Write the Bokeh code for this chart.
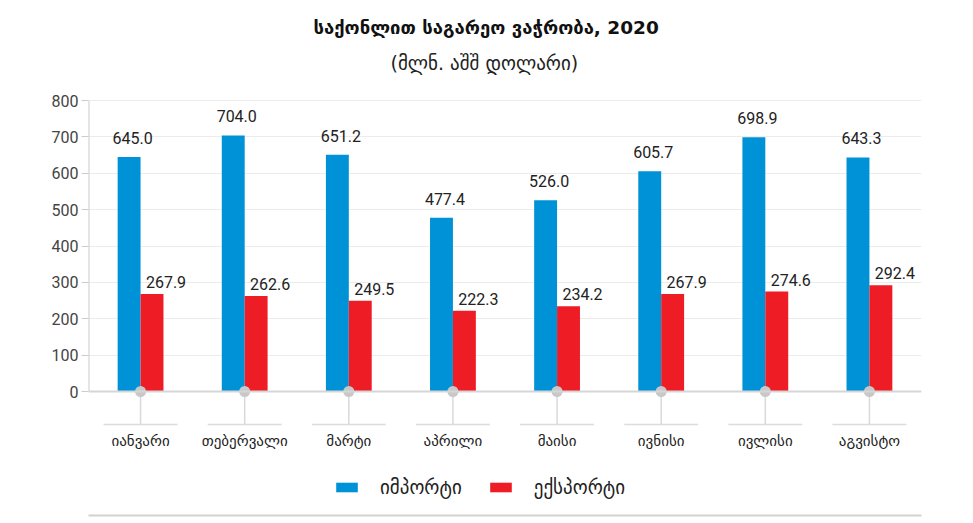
from bokeh.plotting import figure
from bokeh.models import (ColumnDataSource, FactorRange, Range1d, FixedTicker, Title,
                          Legend, LegendItem, Span, BoxAnnotation)
from bokeh.transform import dodge
from bokeh.core.properties import value
from bokeh.embed import file_html
from bokeh.resources import INLINE

# ---- data ----
months = ["იანვარი", "თებერვალი", "მარტი", "აპრილი", "მაისი", "ივნისი", "ივლისი", "აგვისტო"]
imports = [645.0, 704.0, 651.2, 477.4, 526.0, 605.7, 698.9, 643.3]
exports = [267.9, 262.6, 249.5, 222.3, 234.2, 267.9, 274.6, 292.4]
y_ticks = [0, 100, 200, 300, 400, 500, 600, 700, 800]
series_names = ["იმპორტი", "ექსპორტი"]
title_text = "საქონლით საგარეო ვაჭრობა, 2020"
subtitle_text = "(მლნ. აშშ დოლარი)"

# ---- style / layout ----
BLUE = "#0092d6"
RED = "#ee1c25"
GEO_FONT = "DejaVu Sans"
NUM_FONT = "Roboto"
W, H = 973, 523
FRAME_L, FRAME_R = 88, 921
TOP_TICK_PX = 100
FRAME_T, FRAME_B = 80, 523
ZERO_PX = 391
PX = (ZERO_PX - TOP_TICK_PX) / 800.0
Y_END = 800 + (TOP_TICK_PX - FRAME_T) / PX
Y_START = -(FRAME_B - ZERO_PX) / PX
SEP_Y = -(424 - ZERO_PX) / PX
LBL_Y = -(440 - ZERO_PX) / PX
BAR_W = 0.22

src = ColumnDataSource(dict(
    month=months,
    imports=imports,
    exports=exports,
    imp_lbl=[f"{v:.1f}" for v in imports],
    exp_lbl=[f"{v:.1f}" for v in exports],
))

p = figure(x_range=FactorRange(factors=months), y_range=Range1d(Y_START, Y_END),
           width=W, height=H, output_backend="svg", toolbar_location=None,
           x_axis_location=None, title=title_text,
           min_border_left=FRAME_L, min_border_right=W - FRAME_R,
           min_border_top=FRAME_T, min_border_bottom=0)
p.outline_line_color = None
p.background_fill_color = "white"
p.border_fill_color = "white"

p.title.align = "left"
p.title.offset = 225
p.title.text_font = GEO_FONT
p.title.text_font_size = "18.5px"
p.title.text_font_style = "bold"
p.title.text_color = "#111111"
p.title.standoff = 12

sub = Title(text=subtitle_text, align="left", offset=302, text_font=GEO_FONT,
            text_font_size="19px", text_font_style="normal", text_color="#222222",
            standoff=13)
p.add_layout(sub, "above")

# y axis
p.yaxis.ticker = FixedTicker(ticks=y_ticks)
p.yaxis.axis_line_color = None
p.yaxis.major_tick_line_color = "#cccccc"
p.yaxis.major_tick_out = 7
p.yaxis.major_tick_in = 0
p.yaxis.minor_tick_line_color = None
p.yaxis.major_label_text_font = NUM_FONT
p.yaxis.major_label_text_font_size = "16px"
p.yaxis.major_label_text_color = "#444444"
p.yaxis.major_label_standoff = 3
p.ygrid.grid_line_color = "#ececec"
p.xgrid.visible = False

# custom axis line from 0 to 800
axsrc = ColumnDataSource(dict(m=[months[0]], y0=[y_ticks[0]], y1=[y_ticks[-1]]))
p.segment(x0=dodge("m", -0.5, range=p.x_range), x1=dodge("m", -0.5, range=p.x_range),
          y0="y0", y1="y1", source=axsrc, line_color="#cccccc", line_width=2)

# baseline
p.add_layout(Span(location=0, dimension="width", line_color="#d6d6d6", line_width=2))
# bottom rule (canvas units, spans wider than the frame)
p.add_layout(BoxAnnotation(left=48, right=925, top=514, bottom=516,
                           left_units="canvas", right_units="canvas",
                           top_units="canvas", bottom_units="canvas",
                           fill_color="#d2d2d2", fill_alpha=1.0, line_color=None,
                           level="overlay"))

# bars
r_imp = p.vbar(x=dodge("month", -BAR_W / 2, range=p.x_range), top="imports", width=BAR_W,
               source=src, fill_color=BLUE, line_color=None)
r_exp = p.vbar(x=dodge("month", BAR_W / 2, range=p.x_range), top="exports", width=BAR_W,
               source=src, fill_color=RED, line_color=None)

# value labels
p.text(x=dodge("month", -BAR_W / 2, range=p.x_range), y="imports", text="imp_lbl", source=src,
       x_offset=3.5, y_offset=-19, text_align="center", text_baseline="middle",
       text_font=value(NUM_FONT), text_font_size="16px", text_color="#222222")
p.text(x=dodge("month", BAR_W / 2, range=p.x_range), y="exports", text="exp_lbl", source=src,
       x_offset=14, y_offset=-12, text_align="center", text_baseline="middle",
       text_font=value(NUM_FONT), text_font_size="16px", text_color="#222222")

# category stems, dots, separators, labels
p.segment(x0="month", x1="month", y0=0, y1=SEP_Y, source=src,
          line_color="#d9d9d9", line_width=1.5)
p.segment(x0=dodge("month", -0.355, range=p.x_range), x1=dodge("month", 0.355, range=p.x_range),
          y0=SEP_Y, y1=SEP_Y, source=src, line_color="#dcdcdc", line_width=1.5)
p.scatter(x="month", y=0, source=src, size=11, fill_color="#c8c8c8", line_color=None)
p.text(x="month", y=LBL_Y, text="month", source=src, text_align="center",
       text_baseline="middle", text_font=value(GEO_FONT), text_font_size="15px",
       text_color="#222222")

legend = Legend(items=[LegendItem(label=series_names[0], renderers=[r_imp]),
                       LegendItem(label=series_names[1], renderers=[r_exp])],
                orientation="horizontal", location=(245, 25),
                border_line_color=None, background_fill_alpha=0,
                padding=0, margin=0, spacing=25, label_standoff=20,
                glyph_width=27, glyph_height=12,
                label_text_font=GEO_FONT, label_text_font_size="19px",
                label_text_color="#222222")
p.add_layout(legend)

open("out.html", "w").write(file_html(p, INLINE))
